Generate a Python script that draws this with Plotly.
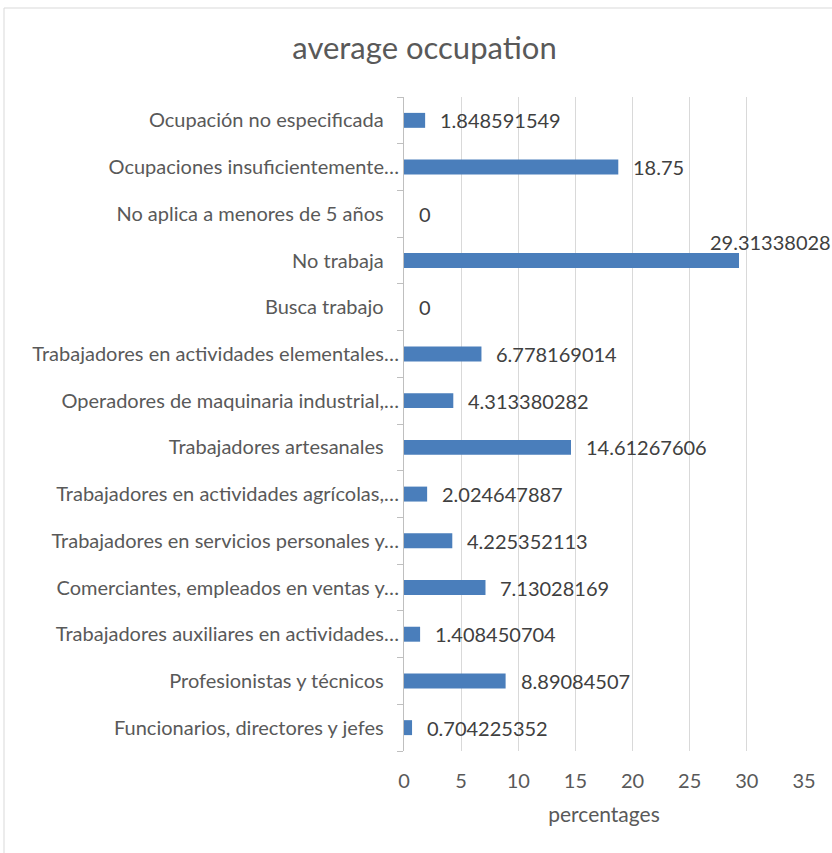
import plotly.graph_objects as go

categories = [
    "Funcionarios, directores y jefes",
    "Profesionistas y técnicos",
    "Trabajadores auxiliares en actividades…",
    "Comerciantes, empleados en ventas y…",
    "Trabajadores en servicios personales y…",
    "Trabajadores en actividades agrícolas,…",
    "Trabajadores artesanales",
    "Operadores de maquinaria industrial,…",
    "Trabajadores en actividades elementales…",
    "Busca trabajo",
    "No trabaja",
    "No aplica a menores de 5 años",
    "Ocupaciones insuficientemente…",
    "Ocupación no especificada",
]
values = [
    0.704225352, 8.89084507, 1.408450704, 7.13028169, 4.225352113,
    2.024647887, 14.61267606, 4.313380282, 6.778169014, 0,
    29.31338028, 0, 18.75, 1.848591549,
]
x_ticks = [0, 5, 10, 15, 20, 25, 30, 35]

FONT = "Lato, Carlito, Calibri, sans-serif"
BAR = "#4a7ebb"
FS = 20

# labels not truncated by the original chart sit a bit further from the axis
tick_text = [c if c.endswith("…") else c + "\u00a0\u00a0\u00a0" for c in categories]

fig = go.Figure(go.Bar(
    x=values, y=categories, orientation="h",
    marker=dict(color=BAR, line=dict(width=0)),
    hoverinfo="x+y",
))

W, H = 832, 853
L, R, T, B = 404, 28, 97, 102
pw, ph = W - L - R, H - T - B

annotations = []
for c, v in zip(categories, values):
    txt = "{:.10g}".format(v)
    if v > 25:
        annotations.append(dict(x=v, y=c, xref="x", yref="y", text=txt,
                                showarrow=False, xanchor="center", yanchor="middle",
                                xshift=31, yshift=19,
                                font=dict(family=FONT, size=FS, color="#404040")))
    else:
        annotations.append(dict(x=v, y=c, xref="x", yref="y", text=txt,
                                showarrow=False, xanchor="left", yanchor="middle",
                                xshift=13, yshift=0,
                                font=dict(family=FONT, size=FS, color="#404040")))

fig.update_layout(
    width=W, height=H,
    margin=dict(l=L, r=R, t=T, b=B, pad=0),
    paper_bgcolor="white", plot_bgcolor="white",
    font=dict(family=FONT, size=FS, color="#595959"),
    title=dict(text="average occupation", x=(424.5) / W, xanchor="center",
               y=1 - 48 / H, yanchor="middle",
               font=dict(family=FONT, size=31, color="#595959")),
    bargap=0.68,
    showlegend=False,
    annotations=annotations,
    shapes=[dict(type="rect", xref="paper", yref="paper",
                 x0=(4 - L) / pw, x1=1.3, y0=-0.3, y1=(H - B - 8) / ph,
                 line=dict(color="#d9d9d9", width=1), fillcolor="rgba(0,0,0,0)",
                 layer="below")],
    xaxis=dict(range=[0, 35], tickvals=x_ticks, showgrid=True,
               gridcolor="#d9d9d9", gridwidth=1, zeroline=False, showline=False,
               ticks="", ticklabelstandoff=16,
               tickfont=dict(family=FONT, size=FS, color="#595959"),
               title=dict(text="percentages", standoff=16,
                          font=dict(family=FONT, size=21, color="#595959"))),
    yaxis=dict(type="category", categoryorder="array", categoryarray=categories,
               tickmode="array", tickvals=categories, ticktext=tick_text,
               showline=True, linecolor="#bfbfbf", linewidth=1,
               ticks="outside", ticklen=6, tickcolor="#bfbfbf", tickson="boundaries",
               showgrid=False, zeroline=False,
               tickfont=dict(family=FONT, size=FS, color="#595959")),
)

fig.write_html("out.html", config={"displayModeBar": False},
               post_script="document.body.style.margin='0';")
